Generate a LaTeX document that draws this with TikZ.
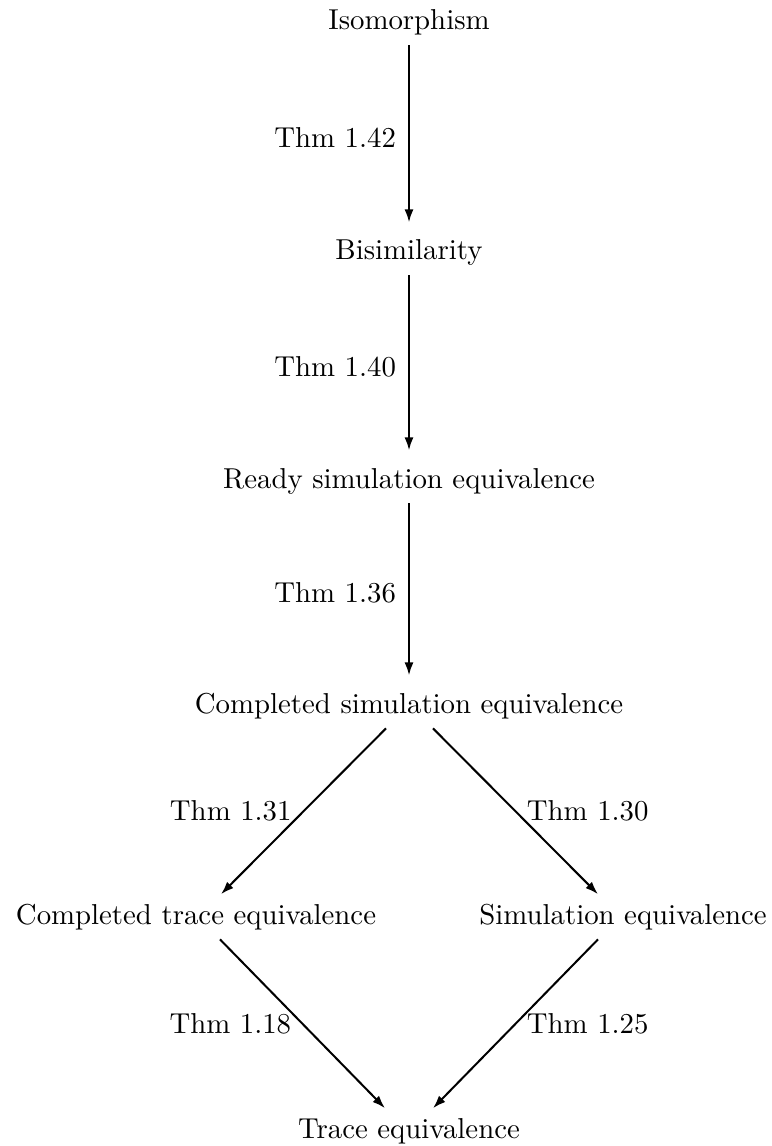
\documentclass[tikz,border=0pt]{standalone}
\usetikzlibrary{arrows.meta,calc}
\begin{document}
\begin{tikzpicture}[x=0.3472pt,y=-0.3472pt,
  term/.style={anchor=base, inner xsep=0pt, inner ysep=3.2pt, text height=6.94pt, text depth=1.94pt},
  thm/.style={inner sep=0pt},
  imp/.style={-{Latex[length=4.5pt,width=3.1pt]}, line width=0.7pt}]
\useasboundingbox (0,0) rectangle (771,1146);
\node[term] (iso) at (409,30) {Isomorphism};
\node[term] (bis) at (409,260) {Bisimilarity};
\node[term] (rse) at (409,488) {Ready simulation equivalence};
\node[term] (cse) at (409,713) {Completed simulation equivalence};
\node[term] (cte) at (196,924) {Completed trace equivalence};
\node[term] (se) at (623,924) {Simulation equivalence};
\node[term] (te) at (409,1138) {Trace equivalence};

\draw[imp, shorten >=2.7pt] (iso.south) -- node[thm, midway, anchor=east, xshift=-4.2pt] {Thm 1.42} (bis.north);
\draw[imp, shorten >=2.7pt] (bis.south) -- node[thm, midway, anchor=east, xshift=-4.2pt] {Thm 1.40} (rse.north);
\draw[imp, shorten >=2.7pt] (rse.south) -- node[thm, midway, anchor=east, xshift=-4.2pt] {Thm 1.36} (cse.north);

\draw[imp] ($(cse.south)+(-23,0)$) -- node[thm, midway, anchor=east, xshift=-3.8pt] {Thm 1.31} ($(cte.north)+(25,0)$);
\draw[imp] ($(cse.south)+(24,0)$) -- node[thm, midway, anchor=west, xshift=3.6pt] {Thm 1.30} ($(se.north)+(-25,0)$);
\draw[imp] ($(cte.south)+(24,0)$) -- node[thm, midway, anchor=east, xshift=-3.6pt] {Thm 1.18} ($(te.north)+(-24,0)$);
\draw[imp] ($(se.south)+(-25,0)$) -- node[thm, midway, anchor=west, xshift=3.6pt] {Thm 1.25} ($(te.north)+(24,0)$);
\end{tikzpicture}
\end{document}
